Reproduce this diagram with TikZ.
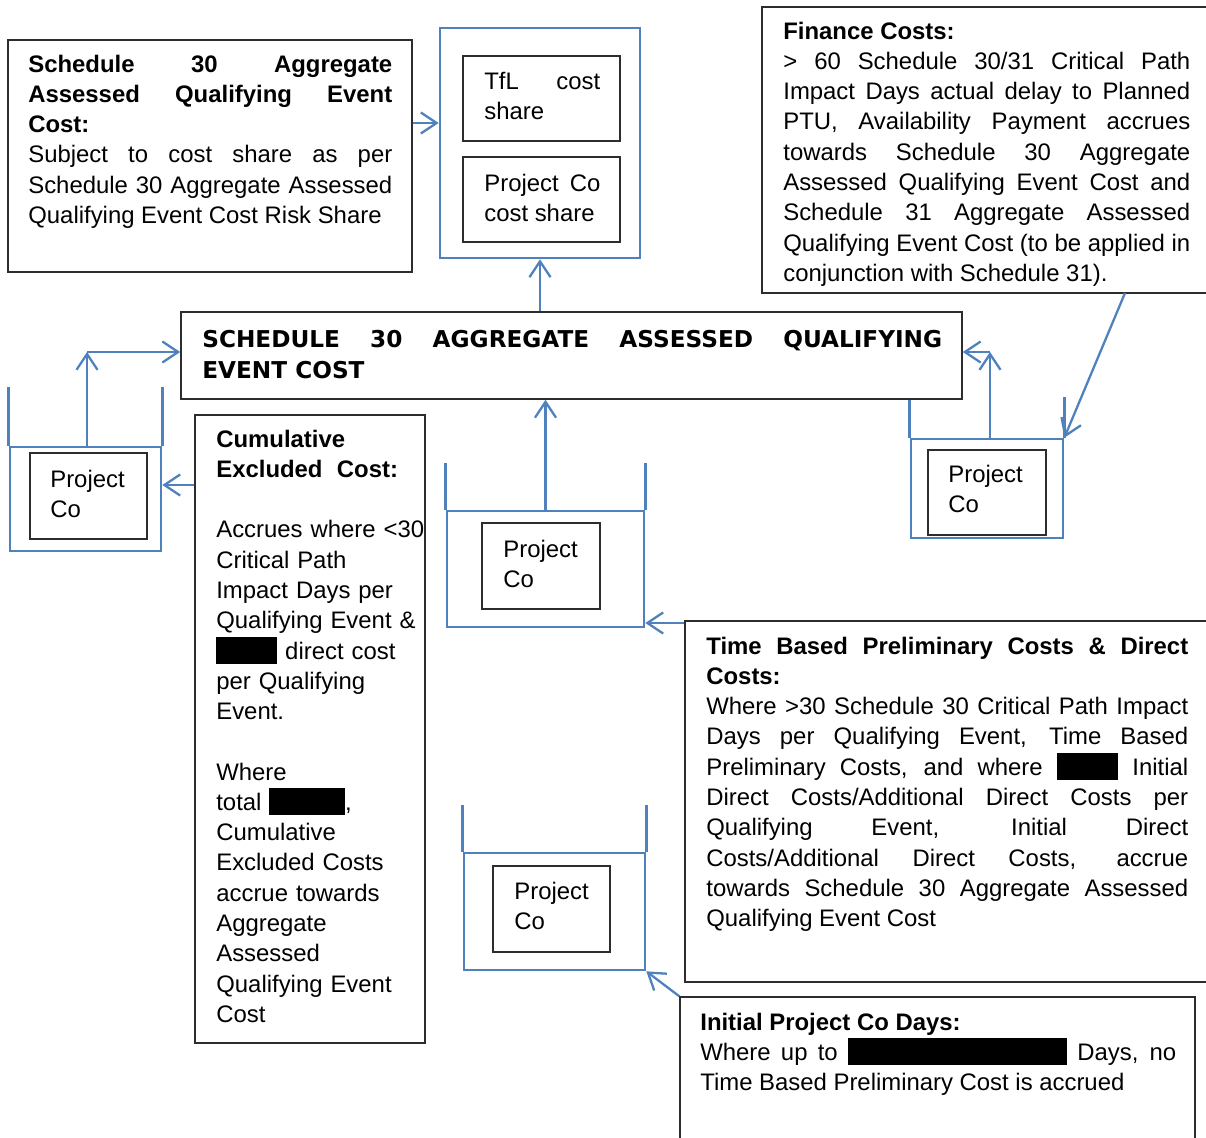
\documentclass[tikz,border=0pt]{standalone}
\usepackage{fontspec}
\setmainfont{Liberation Sans}
\newfontfamily\headfont{DejaVu Sans}
\usetikzlibrary{arrows.meta,fit}
\definecolor{tankblue}{RGB}{79,129,189}
\definecolor{framegray}{RGB}{45,45,45}
\setlength{\parindent}{0pt}
\hbadness=10000
\newcommand{\redact}[1]{\rule[-0.2em]{#1}{1.13em}}
\tikzset{
  boxframe/.style={draw=framegray, line width=0.9pt, inner sep=0pt},
  tank/.style={draw=tankblue, line width=1.5pt, inner sep=0pt},
  post/.style={draw=tankblue, line width=1.5pt},
  arr/.style={draw=tankblue, line width=1.3pt, -{Straight Barb[length=9pt,width=12pt]}},
  txt/.style={anchor=north west, inner sep=0pt, align=justify, font=\fontsize{13.6}{17.23}\selectfont},
  pctxt/.style={anchor=north west, inner sep=0pt, align=left, text width=2.4cm, font=\fontsize{13.6}{17.23}\selectfont},
}
\begin{document}
\begin{tikzpicture}[x=0.02cm, y=-0.02cm]
\useasboundingbox (0,0) rectangle (1206,1138);
% frames
\node[boxframe, fit={(8,40) (412,272)}] (costbox) {};
\node[tank, fit={(440,28) (640,258)}] (tflouter) {};
\node[boxframe, fit={(463,56) (620,141)}] (tflbox) {};
\node[boxframe, fit={(463,157) (620,242)}] (pcshare) {};
\node[boxframe, fit={(762,7) (1208,293)}] (finbox) {};
\node[boxframe, fit={(181,312) (962,399)}] (central) {};
\node[tank, fit={(10,447) (161,551)}] (lefttank) {};
\node[boxframe, fit={(30,453) (147,539)}] (leftpc) {};
\node[boxframe, fit={(195,415) (425,1043)}] (cumbox) {};
\node[tank, fit={(447,511) (644,627)}] (midtank) {};
\node[boxframe, fit={(482,523) (600,609)}] (midpc) {};
\node[tank, fit={(911,439) (1063,538)}] (righttank) {};
\node[boxframe, fit={(928,450) (1046,535)}] (rightpc) {};
\node[boxframe, fit={(685,621) (1208,982)}] (timebox) {};
\node[tank, fit={(464,853) (645,970)}] (bottomtank) {};
\node[boxframe, fit={(493,866) (610,952)}] (bottompc) {};
\node[boxframe, fit={(680,997) (1195,1142)}] (initbox) {};
% texts
\node[txt, text width=7.28cm] (costtext) at (28,54.5) {\textbf{Schedule 30 Aggregate\linebreak Assessed Qualifying Event\linebreak Cost:}\par Subject to cost share as per\linebreak Schedule 30 Aggregate Assessed\linebreak Qualifying Event Cost Risk Share};
\node[txt, text width=2.32cm] (tfltext) at (484,71.5) {TfL cost\linebreak share};
\node[txt, text width=2.32cm] (pcsharetext) at (484,173.5) {Project Co\linebreak cost share};
\node[txt, text width=8.14cm] (fintext) at (783,21.5) {\textbf{Finance Costs:}\par > 60 Schedule 30/31 Critical Path\linebreak Impact Days actual delay to Planned\linebreak PTU, Availability Payment accrues\linebreak towards Schedule 30 Aggregate\linebreak Assessed Qualifying Event Cost and\linebreak Schedule 31 Aggregate Assessed\linebreak Qualifying Event Cost (to be applied in\linebreak conjunction with Schedule 31).};
\node[txt, text width=14.8cm, font=\headfont\bfseries\fontsize{13.2}{18.1}\selectfont] (centraltext) at (202,329.5) {SCHEDULE 30 AGGREGATE ASSESSED QUALIFYING\linebreak EVENT COST};
\node[txt, align=left, text width=4.8cm] (cumtext) at (216,429.5) {\textbf{Cumulative}\\ \textbf{Excluded\hspace{0.6em}Cost:}\\[17.23pt] Accrues where <30\\ Critical Path\\ Impact Days per\\ Qualifying Event \&\\ \redact{2.55em} direct cost\\ per Qualifying\\ Event.\\[17.23pt] Where\\ total \redact{3.17em},\\ Cumulative\\ Excluded Costs\\ accrue towards\\ Aggregate\\ Assessed\\ Qualifying Event\\ Cost};
\node[txt, text width=9.64cm] (timetext) at (706,636.5) {\textbf{Time Based Preliminary Costs \& Direct\linebreak Costs:}\par Where >30 Schedule 30 Critical Path Impact\linebreak Days per Qualifying Event, Time Based\linebreak Preliminary Costs, and where \redact{2.58em} Initial\linebreak Direct Costs/Additional Direct Costs per\linebreak Qualifying Event, Initial Direct\linebreak Costs/Additional Direct Costs, accrue\linebreak towards Schedule 30 Aggregate Assessed\linebreak Qualifying Event Cost};
\node[txt, text width=9.52cm] (inittext) at (700,1012.5) {\textbf{Initial Project Co Days:}\par Where up to \redact{9.17em} Days, no\linebreak Time Based Preliminary Cost is accrued};
\node[pctxt] (leftpctext) at (50,469.5) {Project\\Co};
\node[pctxt] (midpctext) at (503,539.5) {Project\\Co};
\node[pctxt] (rightpctext) at (948,464.5) {Project\\Co};
\node[pctxt] (bottompctext) at (514,881.5) {Project\\Co};
% tank walls
\foreach \t/\h in {lefttank/59, midtank/47, bottomtank/47}{
  \draw[post] (\t.north west) -- ++(0,-\h);
  \draw[post] (\t.north east) -- ++(0,-\h);
}
\draw[post] (righttank.north west) -- (righttank.north west |- central.south);
\draw[post] (righttank.north east) -- ++(0,-41);
% arrows
\coordinate (leftbend) at (87,352);
\coordinate (rightbend) at (990,352);
\coordinate (finfoot) at (1125,293);
\draw[arr] (costbox.east |- 0,123) -- (tflouter.west |- 0,123);
\draw[arr] (central.north -| tflouter.south) -- (tflouter.south);
\draw[arr] (midtank.north) -- (midtank.north |- central.south);
\draw[arr] (lefttank.north -| leftbend) -- (leftbend);
\draw[arr] (leftbend) -- (central.west |- leftbend);
\draw[arr] (righttank.north -| rightbend) -- (rightbend);
\draw[arr] (rightbend) -- (central.east |- rightbend);
\draw[arr] (cumbox.west |- 0,485) -- (lefttank.east |- 0,485);
\draw[arr] (finfoot) -- (righttank.north east);
\draw[arr] (timebox.north west |- 0,623) -- (midtank.east |- 0,623);
\draw[arr] (initbox.north west) -- (bottomtank.south east);
\end{tikzpicture}
\end{document}
